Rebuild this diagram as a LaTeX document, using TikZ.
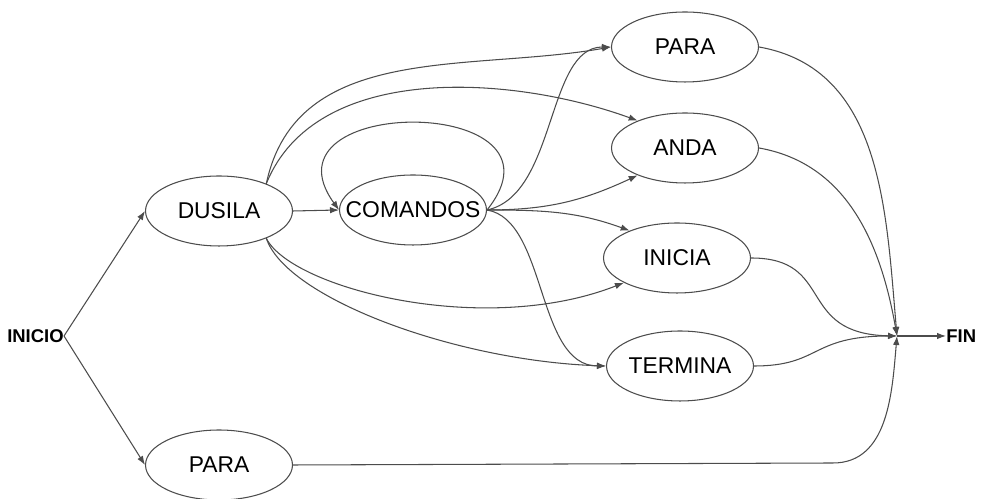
\documentclass[tikz,border=0pt]{standalone}
\usepackage{fontspec}
\setmainfont{Liberation Sans}
\usepackage{xcolor}
\usepackage{tikz}
\usetikzlibrary{arrows.meta,shapes.geometric,calc}

\definecolor{linha}{gray}{0.3}
\newcommand{\nome}[1]{\makebox[0pt]{#1}}

\begin{document}
\begin{tikzpicture}[x=0.02cm,y=0.02cm,
    estado/.style={draw=linha,ellipse,line width=0.6pt,minimum width=2.94cm,minimum height=1.4cm,inner sep=0pt,font=\fontsize{13}{15}\selectfont},
    extremo/.style={inner sep=0pt,font=\bfseries\fontsize{10.5}{12}\selectfont},
    seta/.style={draw=linha,line width=0.6pt,-{Latex[length=1.8mm,width=1.3mm]}}]
  \useasboundingbox (0,0) rectangle (1001,499);

  \node[extremo,anchor=east] (inicio) at (64,163) {INICIO};
  \coordinate (j) at (897,163);
  \node[extremo,anchor=west] (fim) at (946,163) {FIN};

  \node[estado] (dusila) at (219,288) {\nome{DUSILA}};
  \node[estado] (parab) at (219,34) {\nome{PARA}};
  \node[estado] (comandos) at (413,289) {\nome{COMANDOS}};
  \node[estado] (parat) at (685,452) {\nome{PARA}};
  \node[estado] (anda) at (685,351) {\nome{ANDA}};
  \node[estado] (inicia) at (677,241) {\nome{INICIA}};
  \node[estado] (termina) at (680,133) {\nome{TERMINA}};

  \draw[seta] (inicio.east) -- (dusila.west);
  \draw[seta] (inicio.east) -- (parab.west);
  \draw[seta] (dusila.east) -- (comandos.west);
  \draw[seta] (comandos.east) .. controls (580,405) and (255,405) .. (comandos.west); % laco
  % saidas de DUSILA
  \draw[seta] (dusila.30) to[out=78,in=190] (parat.west);
  \draw[seta] (dusila.30) to[out=68,in=160,looseness=0.9] (anda.150);
  \draw[seta] (dusila.-30) .. controls +(25,-50) and +(-140,-55) .. (inicia.205);
  \draw[seta] (dusila.-30) .. controls +(20,-60) and +(-150,5) .. (termina.west);
  % saidas de COMANDOS
  \draw[seta] (comandos.east) .. controls +(70,15) and +(-65,0) .. (parat.west);
  \draw[seta] (comandos.east) to[out=0,in=205] (anda.210);
  \draw[seta] (comandos.east) to[out=0,in=160] (inicia.150);
  \draw[seta] (comandos.east) .. controls +(60,-10) and +(-70,0) .. (termina.west);
  % chegadas ao FIN
  \draw[seta] (parat.east) to[out=-10,in=95] (j);
  \draw[seta] (anda.east) to[out=-10,in=100] (j);
  \draw[seta] (inicia.east) .. controls +(85,0) and (795,165) .. (j);
  \draw[seta] (termina.east) .. controls +(67,0) and (810,163) .. (j);
  \draw[seta] (parab.east) -- ++(540,2) to[out=0,in=-95] (j);
  \draw[seta] (j) -- (fim.west);
\end{tikzpicture}
\end{document}
